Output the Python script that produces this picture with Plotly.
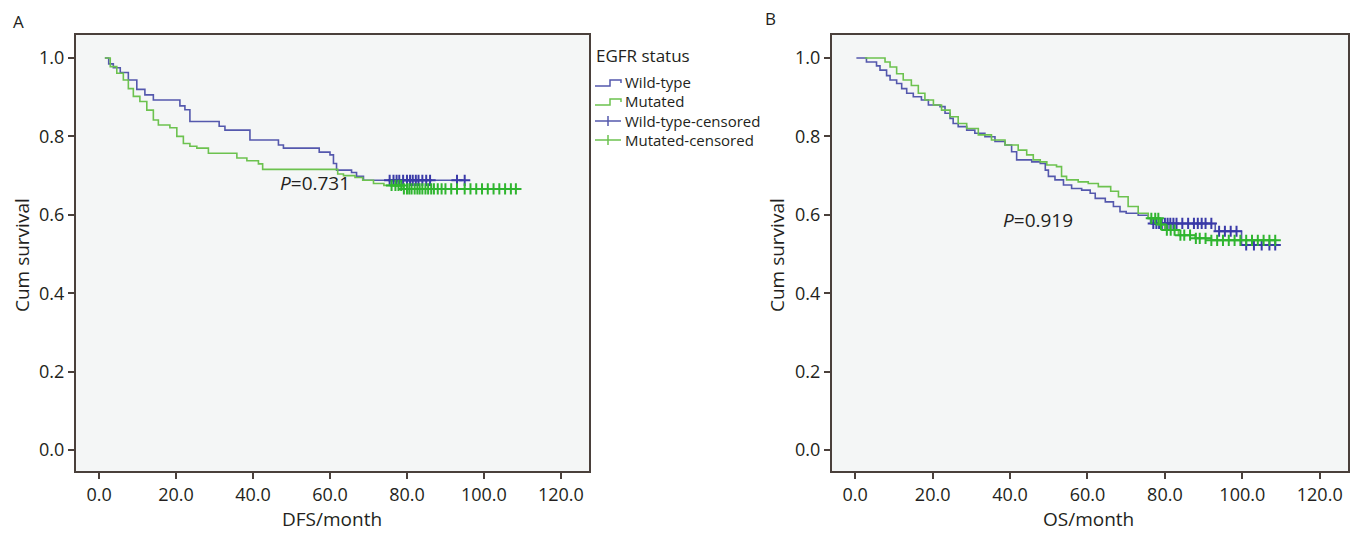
import plotly.graph_objects as go

# ---------------- data ----------------
# Panel A: DFS
dfs_wt_time = [1.5, 2.5, 3.7, 5.5, 7.6, 9.8, 11.9, 14.1, 21.0, 22.3, 23.6, 31.2, 32.7, 39.2, 46.6, 47.9,
               57.2, 60.0, 60.9, 61.7, 65.6, 66.9, 68.7]
dfs_wt_surv = [1.0, 0.985, 0.975, 0.963, 0.944, 0.92, 0.906, 0.893, 0.878, 0.868, 0.838, 0.826, 0.816, 0.791,
               0.778, 0.77, 0.76, 0.753, 0.731, 0.714, 0.708, 0.698, 0.688]
dfs_wt_cens = [75.5, 76.5, 77.3, 78.0, 79.0, 80.0, 80.8, 81.5, 82.3, 83.0, 84.0, 85.0, 86.0, 93.0, 95.0]

dfs_mu_time = [1.5, 2.9, 4.6, 6.3, 7.6, 8.9, 10.6, 12.4, 14.1, 15.4, 18.4, 20.2, 21.9, 23.6, 25.4, 28.4,
               35.8, 38.4, 41.4, 42.5, 62.0, 63.5, 66.5, 68.5, 71.3, 74.0, 79.0]
dfs_mu_surv = [1.0, 0.978, 0.961, 0.944, 0.922, 0.902, 0.889, 0.867, 0.842, 0.829, 0.822, 0.80, 0.782, 0.775,
               0.77, 0.757, 0.745, 0.738, 0.73, 0.716, 0.704, 0.70, 0.695, 0.688, 0.68, 0.675, 0.666]
dfs_mu_cens = [76.0, 77.0, 77.8, 78.5, 79.2, 80.0, 80.6, 81.2, 82.0, 82.7, 83.3, 84.0, 84.8, 85.5, 86.3, 87.0,
               88.0, 89.0, 90.0, 91.5, 93.0, 95.0, 96.5, 98.0, 99.5, 101.0, 102.5, 104.0, 105.5, 107.0, 108.3]

# Panel B: OS
os_wt_time = [0.3, 2.9, 5.5, 6.4, 8.1, 9.0, 10.7, 12.0, 13.3, 15.0, 17.1, 18.9, 21.9, 23.2, 24.5, 25.3,
              26.6, 28.8, 30.9, 33.5, 36.1, 38.7, 40.4, 41.7, 45.6, 47.8, 49.1, 49.9, 51.6, 53.8, 55.9,
              58.5, 60.7, 62.0, 64.6, 66.7, 68.4, 70.0, 73.1, 75.7, 76.3, 93.0, 99.8]
os_wt_surv = [1.0, 0.99, 0.98, 0.969, 0.955, 0.944, 0.935, 0.922, 0.91, 0.901, 0.893, 0.88, 0.876, 0.859,
              0.846, 0.833, 0.825, 0.816, 0.808, 0.799, 0.787, 0.778, 0.761, 0.74, 0.735, 0.731, 0.714,
              0.698, 0.689, 0.676, 0.667, 0.663, 0.655, 0.642, 0.633, 0.621, 0.608, 0.604, 0.599, 0.591,
              0.578, 0.558, 0.523]
os_wt_cens = [77.0, 77.8, 78.5, 79.2, 80.0, 80.7, 81.4, 82.2, 83.0, 84.5, 86.0, 87.5, 88.5, 89.5, 90.5,
              92.0, 94.0, 95.5, 97.0, 98.5, 101.0, 103.0, 105.0, 107.0, 108.5]

os_mu_time = [2.5, 7.7, 9.0, 10.7, 12.4, 14.5, 16.3, 18.0, 20.2, 22.3, 24.5, 26.6, 28.8, 31.8, 35.2, 38.7,
              42.1, 44.3, 46.0, 47.8, 49.5, 52.0, 53.3, 54.6, 57.6, 60.2, 62.8, 66.0, 68.0, 70.5, 73.1,
              75.7, 78.5, 80.0, 83.5, 87.8, 92.0]
os_mu_surv = [1.0, 0.99, 0.977, 0.96, 0.944, 0.93, 0.91, 0.893, 0.88, 0.867, 0.85, 0.833, 0.82, 0.804,
              0.791, 0.778, 0.765, 0.753, 0.74, 0.735, 0.727, 0.723, 0.698, 0.689, 0.684, 0.68, 0.672,
              0.66, 0.646, 0.621, 0.604, 0.591, 0.575, 0.561, 0.548, 0.54, 0.535]
os_mu_cens = [76.5, 77.5, 78.3, 79.0, 80.5, 81.5, 82.5, 84.0, 85.0, 86.5, 88.0, 89.0, 90.5, 92.0, 93.5,
              95.0, 96.5, 98.0, 99.5, 101.0, 102.5, 104.0, 105.5, 107.0, 108.5]

x_ticks = [0, 20, 40, 60, 80, 100, 120]
y_ticks = [0.0, 0.2, 0.4, 0.6, 0.8, 1.0]
group_names = ["Wild-type", "Mutated", "Wild-type-censored", "Mutated-censored"]
p_values = ["0.731", "0.919"]
x_titles = ["DFS/month", "OS/month"]

# ---------------- style ----------------
OFF = 8                      # default page body margin
W, H = 1363 - 2 * OFF, 533 - OFF
BLUE = "#5458ad"
GREEN = "#6cc24f"
BLUE_C = "#3a3aa8"
GREEN_C = "#2fb52f"
INK = "#231f20"
FRAME = "#4a403b"
FONT = "Open Sans"


def px_x(p):
    return (p - OFF) / W


def px_y(p):
    return 1 - (p - OFF) / H


def step_at(times, survs, t):
    v = survs[0]
    for tt, ss in zip(times, survs):
        if tt <= t:
            v = ss
    return v


fig = go.Figure()


def add_group(times, survs, cens, color, ccolor, xa, ya):
    end_t = max(times[-1], max(cens))
    fig.add_trace(go.Scatter(x=list(times) + [end_t], y=list(survs) + [survs[-1]], mode="lines",
                             line=dict(color=color, width=1.6, shape="hv"), xaxis=xa, yaxis=ya,
                             showlegend=False, hoverinfo="skip"))
    fig.add_trace(go.Scatter(x=cens, y=[step_at(times, survs, c) for c in cens], mode="markers",
                             marker=dict(symbol="cross-thin", size=8, line=dict(color=ccolor, width=2)),
                             xaxis=xa, yaxis=ya, showlegend=False, hoverinfo="skip"))


add_group(dfs_wt_time, dfs_wt_surv, dfs_wt_cens, BLUE, BLUE_C, "x", "y")
add_group(dfs_mu_time, dfs_mu_surv, dfs_mu_cens, GREEN, GREEN_C, "x", "y")
add_group(os_wt_time, os_wt_surv, os_wt_cens, BLUE, BLUE_C, "x2", "y2")
add_group(os_mu_time, os_mu_surv, os_mu_cens, GREEN, GREEN_C, "x2", "y2")

axis_common = dict(showgrid=False, zeroline=False, showline=True, mirror=True, linecolor=FRAME,
                   linewidth=2, ticks="outside", ticklen=6, tickwidth=1.5, tickcolor=FRAME,
                   tickfont=dict(family=FONT, size=18, color=INK))

xr = [-6.0, 127.3]
yr = [-0.0536, 1.0587]
dom_y = [px_y(471), px_y(35)]

fig.update_layout(
    width=W, height=H, margin=dict(l=0, r=0, t=0, b=0),
    paper_bgcolor="white", plot_bgcolor="#f4f6f6",
    font=dict(family=FONT, color=INK),
    xaxis=dict(domain=[px_x(76), px_x(589)], range=xr, tickvals=x_ticks, tickformat=".1f",
               anchor="y", **axis_common),
    yaxis=dict(domain=dom_y, range=yr, tickvals=y_ticks, tickformat=".1f", anchor="x", **axis_common),
    xaxis2=dict(domain=[px_x(832), px_x(1348)], range=xr, tickvals=x_ticks, tickformat=".1f",
                anchor="y2", **axis_common),
    yaxis2=dict(domain=dom_y, range=yr, tickvals=y_ticks, tickformat=".1f", anchor="x2", **axis_common),
)


def txt(text, x, y, size, xanchor="center", angle=0):
    return dict(text=text, x=px_x(x), y=px_y(y), xref="paper", yref="paper", showarrow=False,
                xanchor=xanchor, yanchor="middle", textangle=angle,
                font=dict(family=FONT, size=size, color=INK))


ann = []
ann.append(txt("A", 18, 22, 17))
ann.append(txt("B", 770, 19, 17))
for cx, t in zip([332, 1088], x_titles):
    ann.append(txt(t, cx, 519, 19))
for cx in [22, 777]:
    ann.append(txt("Cum survival", cx, 255, 19, angle=-90))
ann.append(txt("<i>P</i>=" + p_values[0], 315, 183, 19))
ann.append(txt("<i>P</i>=" + p_values[1], 1038, 220, 19))

# legend (custom, drawn beside panel A)
ann.append(txt("EGFR status", 594, 55, 17, xanchor="left"))
shapes = []
rows_y = [82, 101, 121, 140]
row_cols = [BLUE, GREEN, BLUE, GREEN]
for i, (ry, col, name) in enumerate(zip(rows_y, row_cols, group_names)):
    ann.append(txt(name, 623, ry, 15, xanchor="left"))
    if i < 2:
        path = (f"M {px_x(595)} {px_y(ry + 4)} L {px_x(610)} {px_y(ry + 4)} L {px_x(610)} {px_y(ry - 2)} "
                f"L {px_x(621)} {px_y(ry - 2)} L {px_x(621)} {px_y(ry + 1)}")
        shapes.append(dict(type="path", path=path, xref="paper", yref="paper",
                           line=dict(color=col, width=1.5)))
    else:
        shapes.append(dict(type="line", x0=px_x(595), x1=px_x(621), y0=px_y(ry), y1=px_y(ry),
                           xref="paper", yref="paper", line=dict(color=col, width=1.5)))
        shapes.append(dict(type="line", x0=px_x(608), x1=px_x(608), y0=px_y(ry - 5), y1=px_y(ry + 5),
                           xref="paper", yref="paper", line=dict(color=col, width=1.5)))

fig.update_layout(annotations=ann, shapes=shapes)
fig.write_html("out.html")
